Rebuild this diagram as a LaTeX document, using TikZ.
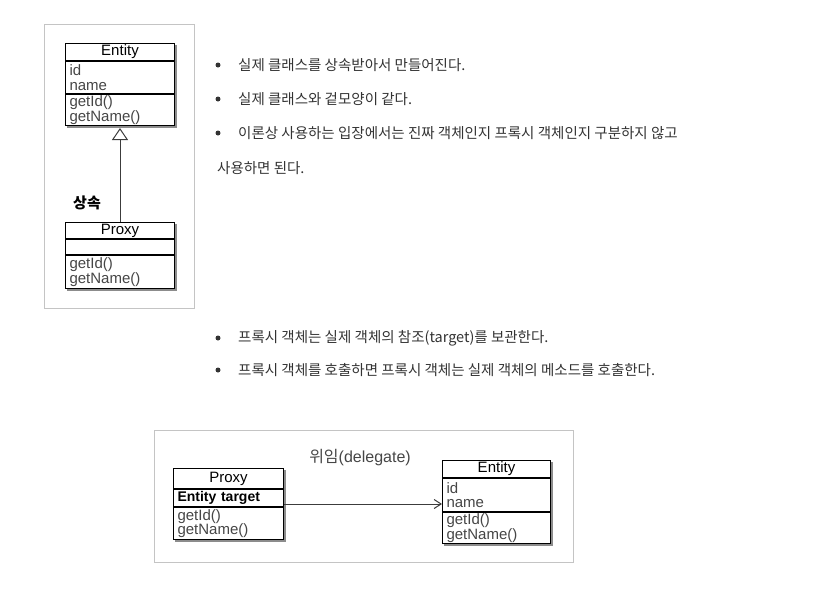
\documentclass[tikz,border=0pt]{standalone}
\usepackage{fontspec}
\setmainfont{Liberation Sans}
\newfontfamily\kr{Noto Sans CJK KR}
\usetikzlibrary{arrows.meta,positioning,fit,shadows,backgrounds}
\definecolor{framegray}{RGB}{196,196,196}
\definecolor{textgray}{RGB}{51,51,51}
\definecolor{partgray}{RGB}{70,70,70}
\definecolor{linegray}{RGB}{60,60,60}

\begin{document}
\begin{tikzpicture}[x=1pt,y=-1pt,
  frame/.style={draw=framegray,line width=0.9pt},
  umlhead/.style={draw,fill=white,line width=1pt,minimum width=109pt,inner sep=0pt,font=\fontsize{15}{15}\selectfont},
  umlpart/.style={draw,fill=white,line width=1pt,minimum width=109pt,text width=101pt,inner xsep=4pt,inner ysep=0pt,align=left,text=partgray,font=\fontsize{15}{14.5}\selectfont},
  umlshadow/.style={inner sep=0pt,fill=white,drop shadow={shadow xshift=2pt,shadow yshift=-2pt,fill=black,opacity=0.45}},
  dot/.style={circle,fill=textgray,inner sep=0pt,minimum size=5pt},
  note/.style={anchor=west,inner sep=0pt,text=textgray,font=\kr\fontsize{14.5}{16}\selectfont},
  conn/.style={draw=linegray,line width=1pt}]
  \useasboundingbox (0,0) rectangle (831,598);

  % Frames
  \draw[frame] (44,24) rectangle (194,308);
  \draw[frame] (154,430) rectangle (573,562);

  % Inheritance: Entity and Proxy
  \node[umlhead,minimum height=17pt,anchor=north west] (ent-head) at (65,43) {Entity};
  \node[umlpart,minimum height=32pt,below=0pt of ent-head] (ent-attr) {id\\name};
  \node[umlpart,minimum height=31pt,below=0pt of ent-attr] (ent-meth) {getId()\\getName()};

  \node[umlhead,minimum height=16pt,anchor=north west] (pxy-head) at (65,222) {Proxy};
  \node[umlpart,minimum height=15pt,below=0pt of pxy-head] (pxy-attr) {};
  \node[umlpart,minimum height=33pt,below=0pt of pxy-attr] (pxy-meth) {getId()\\getName()};

  \draw[conn,shorten >=2pt,-{Triangle[open,length=12pt,width=16pt]}] (pxy-head.north) -- (ent-meth.south);
  \node[font=\kr\bfseries\fontsize{15}{16}\selectfont] (inherit) at (87,203) {상속};

  % Bullet notes
  \node[dot] (b1) at (218,65) {};
  \node[note] (t1) at (238,65) {실제 클래스를 상속받아서 만들어진다.};
  \node[dot] (b2) at (218,99) {};
  \node[note] (t2) at (238,99) {실제 클래스와 겉모양이 같다.};
  \node[dot] (b3) at (218,133) {};
  \node[note] (t3) at (238,133) {이론상 사용하는 입장에서는 진짜 객체인지 프록시 객체인지 구분하지 않고};
  \node[note] (t4) at (217,168) {사용하면 된다.};

  \node[dot] (b5) at (218,338) {};
  \node[note] (t5) at (238,338) {프록시 객체는 실제 객체의 참조(target)를 보관한다.};
  \node[dot] (b6) at (218,370) {};
  \node[note] (t6) at (238,370) {프록시 객체를 호출하면 프록시 객체는 실제 객체의 메소드를 호출한다.};

  % Delegation: Proxy and Entity
  \node[umlhead,minimum width=110pt,minimum height=20pt,anchor=north west] (pxy2-head) at (173,468) {Proxy};
  \node[umlpart,minimum width=110pt,text width=102pt,minimum height=17pt,below=0pt of pxy2-head,text=black,font=\bfseries\fontsize{14}{14.5}\selectfont] (pxy2-attr) {Entity target};
  \node[umlpart,minimum width=110pt,text width=102pt,minimum height=32pt,below=0pt of pxy2-attr] (pxy2-meth) {getId()\\getName()};

  \node[umlhead,minimum width=108pt,minimum height=17pt,anchor=north west] (ent2-head) at (442,460) {Entity};
  \node[umlpart,minimum width=108pt,text width=100pt,minimum height=33pt,below=0pt of ent2-head] (ent2-attr) {id\\name};
  \node[umlpart,minimum width=108pt,text width=100pt,minimum height=31pt,below=0pt of ent2-attr] (ent2-meth) {getId()\\getName()};

  \draw[conn,-{Straight Barb[length=7pt,width=9pt]}] (pxy2-attr.south east) ++(0,-3) coordinate (dl) -- (dl -| ent2-attr.west);
  \node[text=partgray,font=\fontsize{16}{18}\selectfont] (deleg) at (360,458) {{\kr 위임}(delegate)};

  % Shadows
  \begin{scope}[on background layer]
    \node[umlshadow,fit=(ent-head)(ent-meth)] (ent-box) {};
    \node[umlshadow,fit=(pxy-head)(pxy-meth)] (pxy-box) {};
    \node[umlshadow,fit=(pxy2-head)(pxy2-meth)] (pxy2-box) {};
    \node[umlshadow,fit=(ent2-head)(ent2-meth)] (ent2-box) {};
  \end{scope}
\end{tikzpicture}
\end{document}
